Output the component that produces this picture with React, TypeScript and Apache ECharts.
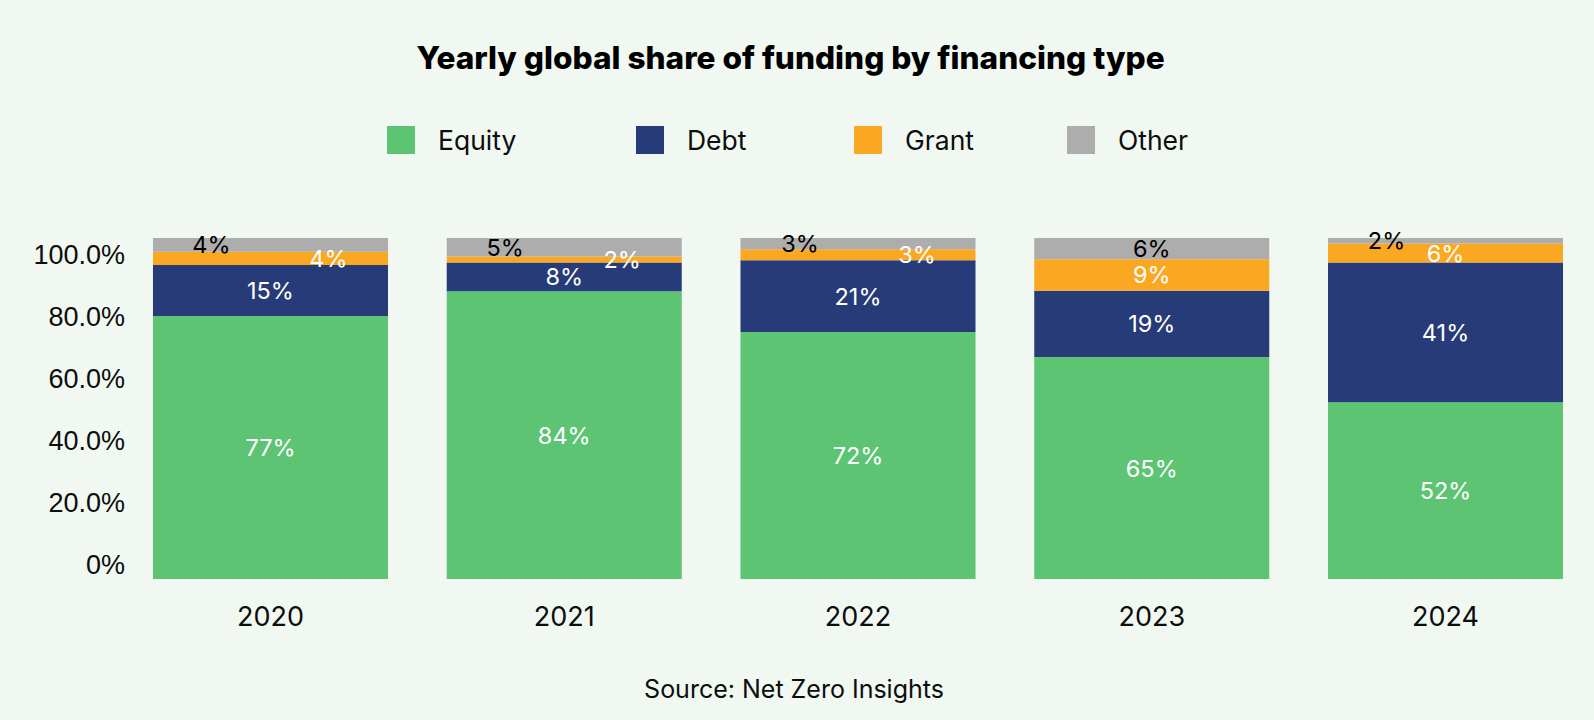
import React, { useEffect, useRef } from "react";
import * as echarts from "echarts";

// ---- data ----
const years = ["2020", "2021", "2022", "2023", "2024"];
const equity = [77.1, 84.4, 72.4, 65.1, 51.8];
const debt = [15.0, 8.4, 21.1, 19.4, 41.0];
const grant = [3.9, 1.8, 3.2, 9.3, 5.6];
const other = [4.0, 5.4, 3.3, 6.2, 1.6];
const yTickLabels = ["0%", "20.0%", "40.0%", "60.0%", "80.0%", "100.0%"];
const titleText = "Yearly global share of funding by financing type";
const sourceText = "Source: Net Zero Insights";

// ---- styling ----
const FONT = "Inter";
const BG = "#F0F8F1";
const TXT = "#0d0d0d";
const COLORS = { Equity: "#5DC473", Debt: "#263B78", Grant: "#FAA722", Other: "#ADADAD" };
// horizontal displacement of small-segment labels (px)
const otherLabelShift = [-59, -59, -58, 0, -59];
const grantLabelShift = [58, 58, 59, 0, 0];
const legendLeft = [382, 631, 849, 1062];

function makeSeries(name: string, values: number[], labelColor: string, shifts?: number[]) {
  return {
    type: "bar",
    name,
    stack: "total",
    xAxisIndex: 0,
    yAxisIndex: 0,
    barCategoryGap: "20%",
    itemStyle: { color: (COLORS as any)[name] },
    label: {
      show: true,
      position: "inside",
      color: labelColor,
      fontFamily: FONT,
      fontSize: 23.5,
      formatter: (p: any) => Math.round(p.value) + "%",
    },
    data: values.map((v, i) =>
      shifts ? { value: v, label: { offset: [shifts[i], 0] } } : v
    ),
  };
}

export default function App() {
  const ref = useRef<HTMLDivElement>(null);
  useEffect(() => {
    if (!ref.current) return;
    const chart = echarts.init(ref.current, undefined, { renderer: "svg" });
    const names = ["Equity", "Debt", "Grant", "Other"];
    chart.setOption({
      animation: false,
      backgroundColor: BG,
      grid: [
        { left: 123.6, right: 1.6, top: 238, bottom: 141 },
        { left: 133, width: 10, top: 255, bottom: 155 },
      ],
      xAxis: [
        {
          type: "category",
          gridIndex: 0,
          data: years,
          axisLine: { show: false },
          axisTick: { show: false },
          axisLabel: {
            margin: 24,
            fontFamily: FONT,
            fontSize: 27,
            color: TXT,
          },
        },
        { type: "value", gridIndex: 1, show: false, min: 0, max: 1 },
      ],
      yAxis: [
        { type: "value", gridIndex: 0, min: 0, max: 100, show: false },
        {
          type: "value",
          gridIndex: 1,
          min: 0,
          max: 100,
          interval: 20,
          axisLine: { show: false },
          axisTick: { show: false },
          splitLine: { show: false },
          axisLabel: {
            margin: 8,
            fontFamily: "Liberation Sans",
            fontSize: 27,
            color: TXT,
            formatter: (v: number) => yTickLabels[Math.round(v / 20)],
          },
        },
      ],
      legend: names.map((n, i) => ({
        data: [n],
        left: legendLeft[i],
        top: 121,
        icon: "rect",
        itemWidth: 28,
        itemHeight: 28,
        selectedMode: false,
        textStyle: {
          fontFamily: FONT,
          fontSize: 26.5,
          color: TXT,
          padding: [0, 0, 0, 18],
        },
      })),
      graphic: [
        {
          type: "text",
          x: 790.6,
          y: 57,
          style: {
            text: titleText,
            fontFamily: FONT,
            fontWeight: 800,
            fontSize: 31.6,
            fill: "#000",
            align: "center",
            verticalAlign: "middle",
          },
        },
        {
          type: "text",
          x: 794,
          y: 689,
          style: {
            text: sourceText,
            fontFamily: FONT,
            fontSize: 25,
            fill: TXT,
            align: "center",
            verticalAlign: "middle",
          },
        },
      ],
      series: [
        makeSeries("Equity", equity, "#ffffff"),
        makeSeries("Debt", debt, "#ffffff"),
        makeSeries("Grant", grant, "#ffffff", grantLabelShift),
        makeSeries("Other", other, "#000000", otherLabelShift),
      ],
    });
    return () => chart.dispose();
  }, []);
  return (
    <div
      ref={ref}
      style={{ position: "fixed", left: 0, top: 0, width: 1594, height: 720, background: BG }}
    />
  );
}
